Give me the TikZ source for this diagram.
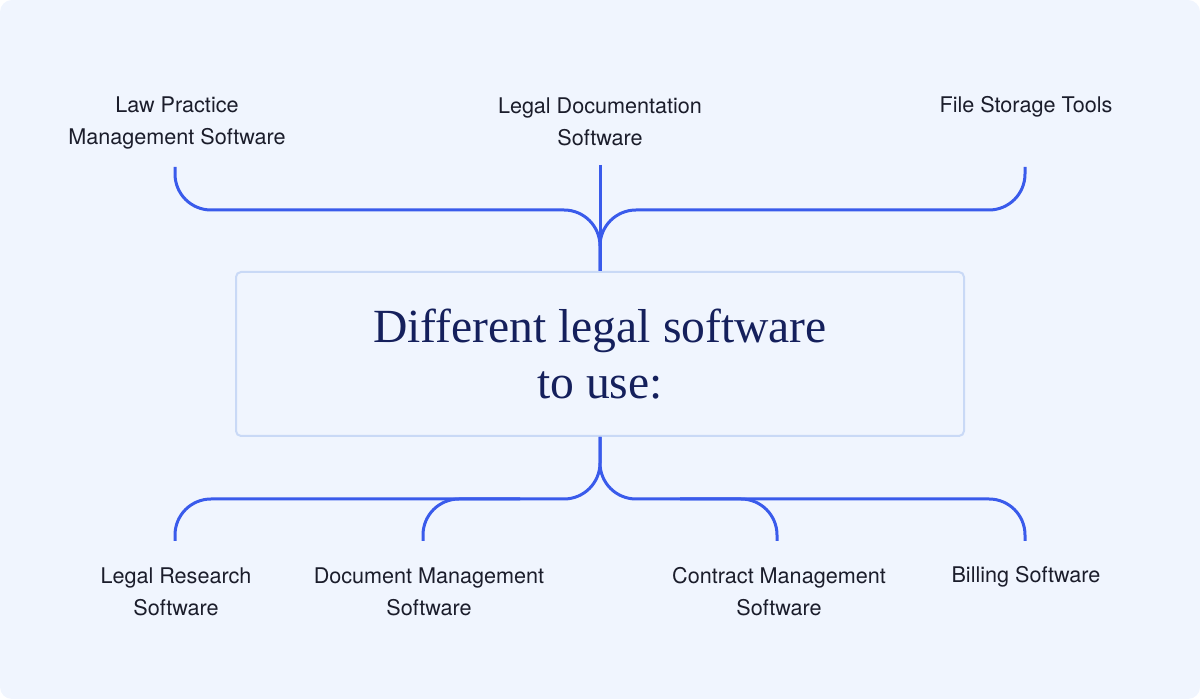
\documentclass[tikz,border=0pt]{standalone}
\usepackage{fontspec}
\setmainfont{TeX Gyre Heros}
\newfontfamily\titlefont{Liberation Serif}

\definecolor{pagebg}{HTML}{F0F5FE}
\definecolor{branchblue}{HTML}{3A5BEB}
\definecolor{boxline}{HTML}{C9D9F6}
\definecolor{titleink}{HTML}{15205C}
\definecolor{labelink}{HTML}{1B1D2B}

\tikzset{
  topic/.style={align=center, text=labelink, inner sep=0pt,
    font=\fontsize{10.8}{16}\selectfont},
  hub/.style={draw=boxline, fill=pagebg, line width=1pt, rounded corners=2.5pt,
    minimum width=364pt, minimum height=82pt, align=center, text=titleink,
    font=\titlefont\fontsize{23.8}{28}\selectfont},
  branch/.style={draw=branchblue, line width=1.5pt, rounded corners=18pt}
}

\begin{document}
\begin{tikzpicture}[x=0.5pt, y=-0.5pt]
\useasboundingbox (0,0) rectangle (1200,699);
\fill [pagebg, rounded corners=6pt] (0,0) rectangle (1200,699);

%%%  nodes

% centre box
\node [hub] (title) at (600,354) {Different legal software\\to use:};

% upper labels
\node [topic] (lawpractice) at (177,123) {Law Practice\\Management Software};
\node [topic] (legaldoc) at (600,122) {Legal Documentation\\Software};
\node [topic] (filestorage) at (1026,107) {File Storage Tools};

% lower labels
\node [topic] (research) at (176,592) {Legal Research\\Software};
\node [topic] (docmgmt) at (429,592) {Document Management\\Software};
\node [topic] (contract) at (779,592) {Contract Management\\Software};
\node [topic] (billing) at (1026,577) {Billing Software};

% branch tips and bars
\coordinate (lawpractice-tip) at (175,167);
\coordinate (legaldoc-tip) at (600,165);
\coordinate (filestorage-tip) at (1025,167);
\coordinate (research-tip) at (175,541);
\coordinate (docmgmt-tip) at (423,541);
\coordinate (contract-tip) at (777,541);
\coordinate (billing-tip) at (1025,541);
\coordinate (upperbar) at (600,210);
\coordinate (lowerbar) at (600,499);

%%% edges

% upper branches
\draw [branch] (legaldoc-tip) -- (title.north);
\draw [branch] (lawpractice-tip) |- (upperbar) -- (title.north);
\draw [branch] (filestorage-tip) |- (upperbar) -- (title.north);

% lower branches
\draw [branch] (title.south) -- (lowerbar) -| (research-tip);
\draw [branch] (title.south) -- (lowerbar) -| (billing-tip);
\draw [branch] (docmgmt-tip) |- (520,499);
\draw [branch] (contract-tip) |- (680,499);
\end{tikzpicture}
\end{document}
